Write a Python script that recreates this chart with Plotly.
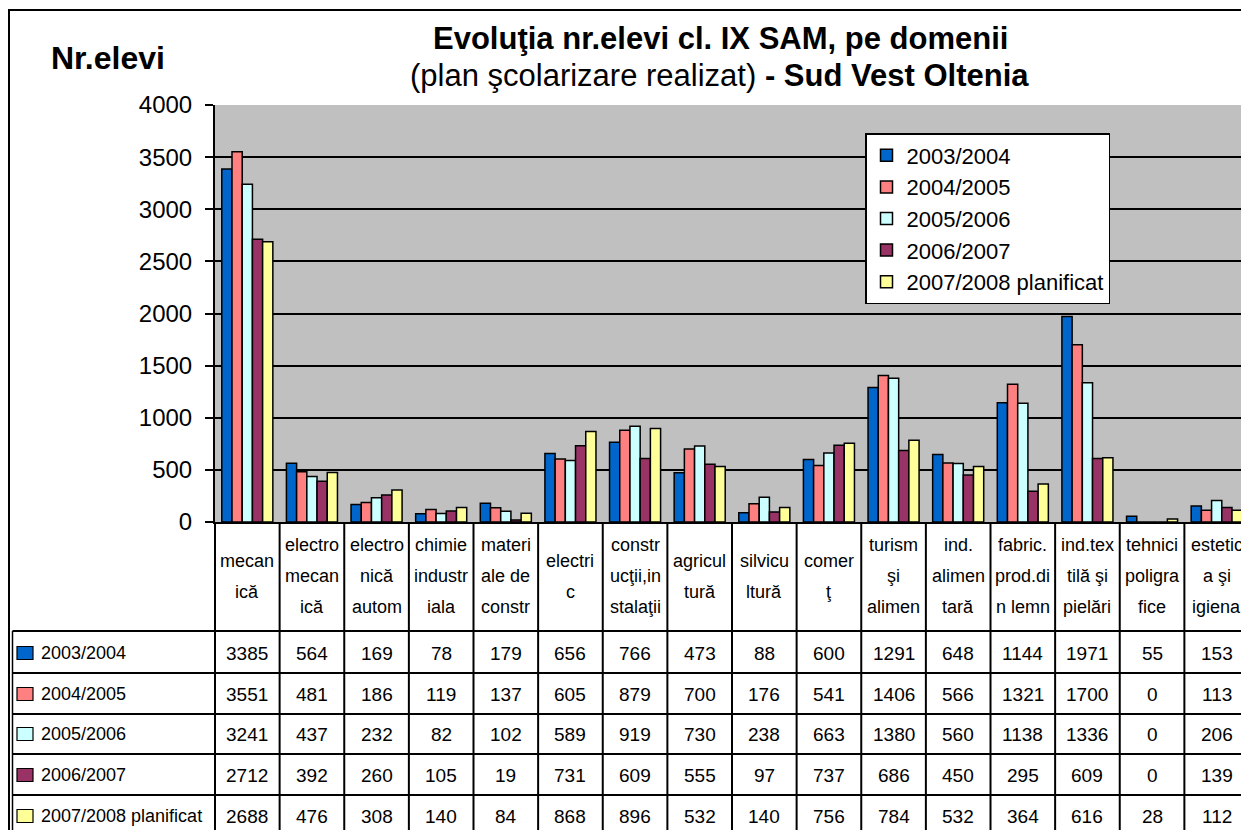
import plotly.graph_objects as go

# ---------------- data ----------------
domenii_lines = [
    ["mecan", "ică"],
    ["electro", "mecan", "ică"],
    ["electro", "nică", "autom"],
    ["chimie", "industr", "iala"],
    ["materi", "ale de", "constr"],
    ["electri", "c"],
    ["constr", "ucţii,in", "stalaţii"],
    ["agricul", "tură"],
    ["silvicu", "ltură"],
    ["comer", "ţ"],
    ["turism", "şi", "alimen"],
    ["ind.", "alimen", "tară"],
    ["fabric.", "prod.di", "n lemn"],
    ["ind.tex", "tilă şi", "pielări"],
    ["tehnici", "poligra", "fice"],
    ["estetic", "a şi", "igiena"],
]
categories = ["".join(l) for l in domenii_lines]

series_names = ["2003/2004", "2004/2005", "2005/2006", "2006/2007", "2007/2008 planificat"]
v_2003_2004 = [3385, 564, 169, 78, 179, 656, 766, 473, 88, 600, 1291, 648, 1144, 1971, 55, 153]
v_2004_2005 = [3551, 481, 186, 119, 137, 605, 879, 700, 176, 541, 1406, 566, 1321, 1700, 0, 113]
v_2005_2006 = [3241, 437, 232, 82, 102, 589, 919, 730, 238, 663, 1380, 560, 1138, 1336, 0, 206]
v_2006_2007 = [2712, 392, 260, 105, 19, 731, 609, 555, 97, 737, 686, 450, 295, 609, 0, 139]
v_2007_2008 = [2688, 476, 308, 140, 84, 868, 896, 532, 140, 756, 784, 532, 364, 616, 28, 112]
series_values = [v_2003_2004, v_2004_2005, v_2005_2006, v_2006_2007, v_2007_2008]
series_colors = ["#0066CC", "#FF8080", "#CCFFFF", "#993366", "#FFFF99"]

y_ticks = [0, 500, 1000, 1500, 2000, 2500, 3000, 3500, 4000]

title_line1 = "<b>Evoluţia nr.elevi cl. IX SAM, pe domenii</b>"
title_line2 = "(plan şcolarizare realizat) <b>- Sud Vest Oltenia</b>"
y_title = "<b>Nr.elevi</b>"

# ---------------- layout geometry ----------------
# the page body has an 8px margin, so figure coordinates = screen coordinates - 8
OFF = 8
W, H = 1249 - OFF, 830 - OFF
L, T = 215 - OFF, 105 - OFF
PLOT_BOTTOM = 522 - OFF
R = 0
B = H - PLOT_BOTTOM
PW = W - L - R
PH = PLOT_BOTTOM - T
FONT = "Liberation Sans, Arial, sans-serif"


def px(x):
    """screen x (reference pixels) -> paper x"""
    return (x - OFF - L) / PW


def py(y):
    """screen y (reference pixels) -> paper y"""
    return (PLOT_BOTTOM - (y - OFF)) / PH


fig = go.Figure()
for name, vals, col in zip(series_names, series_values, series_colors):
    fig.add_trace(go.Bar(
        name=name, x=categories, y=vals,
        marker=dict(color=col, line=dict(color="black", width=1.5)),
    ))

shapes = []
annotations = []

# outer border
shapes.append(dict(type="rect", xref="paper", yref="paper",
                   x0=px(9), x1=px(1270), y0=py(10), y1=py(850),
                   line=dict(color="black", width=2), fillcolor="rgba(0,0,0,0)"))

# table vertical lines (category boundaries)
n = len(categories)
for i in range(n + 1):
    shapes.append(dict(type="line", xref="paper", yref="paper",
                       x0=i / n, x1=i / n, y0=0, y1=py(850),
                       line=dict(color="black", width=2)))
# table inner left border
shapes.append(dict(type="line", xref="paper", yref="paper",
                   x0=px(12.5), x1=px(12.5), y0=py(631), y1=py(850),
                   line=dict(color="black", width=1.5)))
# table horizontal lines
row_lines = [631, 673, 714, 754, 795]
for yl in row_lines:
    shapes.append(dict(type="line", xref="paper", yref="paper",
                       x0=px(12.5), x1=px(1270), y0=py(yl), y1=py(yl),
                       line=dict(color="black", width=2)))

# header labels
for i, lines in enumerate(domenii_lines):
    k = len(lines)
    for j, t in enumerate(lines):
        yc = 576 + (j - (k - 1) / 2) * 31
        annotations.append(dict(xref="x", yref="paper", x=categories[i], y=py(yc),
                                text=t, showarrow=False, xanchor="center", yanchor="middle",
                                font=dict(family=FONT, size=18, color="black")))

# data rows
row_centers = [653, 694, 734, 775, 816]
for r, (name, vals, col) in enumerate(zip(series_names, series_values, series_colors)):
    yc = row_centers[r]
    shapes.append(dict(type="rect", xref="paper", yref="paper",
                       x0=px(17), x1=px(33), y0=py(yc - 6.5), y1=py(yc + 6.5),
                       fillcolor=col, line=dict(color="black", width=1.2)))
    annotations.append(dict(xref="paper", yref="paper", x=px(39), y=py(yc),
                            text=name, showarrow=False, xanchor="left", yanchor="middle",
                            font=dict(family=FONT, size=18, color="black")))
    for i, v in enumerate(vals):
        annotations.append(dict(xref="x", yref="paper", x=categories[i], y=py(yc),
                                text=str(v), showarrow=False, xanchor="center", yanchor="middle",
                                font=dict(family=FONT, size=19, color="black")))

# titles
annotations.append(dict(xref="paper", yref="paper", x=px(720), y=py(38),
                        text=title_line1, showarrow=False, xanchor="center", yanchor="middle",
                        font=dict(family=FONT, size=31, color="black")))
annotations.append(dict(xref="paper", yref="paper", x=px(719), y=py(75),
                        text=title_line2, showarrow=False, xanchor="center", yanchor="middle",
                        font=dict(family=FONT, size=31, color="black")))
annotations.append(dict(xref="paper", yref="paper", x=px(108), y=py(58),
                        text=y_title, showarrow=False, xanchor="center", yanchor="middle",
                        font=dict(family=FONT, size=32, color="black")))

fig.update_layout(
    width=W, height=H,
    margin=dict(l=L, r=R, t=T, b=B, autoexpand=False),
    paper_bgcolor="white", plot_bgcolor="#C0C0C0",
    barmode="group", bargap=0.21, bargroupgap=0,
    showlegend=True,
    legend=dict(x=px(865), y=py(133), xanchor="left", yanchor="top",
                bgcolor="white", bordercolor="black", borderwidth=1.5,
                font=dict(family=FONT, size=22, color="black"),
                traceorder="normal", itemwidth=30, entrywidth=222),
    xaxis=dict(type="category", categoryorder="array", categoryarray=categories,
               range=[-0.5, n - 0.5], showticklabels=False, ticks="",
               showline=True, linecolor="black", linewidth=2, showgrid=False, zeroline=False),
    yaxis=dict(range=[0, 4000], tickvals=y_ticks, ticks="outside", ticklen=8,
               tickcolor="black", tickwidth=1.5, showline=True, linecolor="black", linewidth=2,
               gridcolor="black", gridwidth=1.5, zeroline=False, ticklabelstandoff=8,
               tickfont=dict(family=FONT, size=24, color="black")),
    shapes=shapes, annotations=annotations,
)

fig.write_html("out.html")
